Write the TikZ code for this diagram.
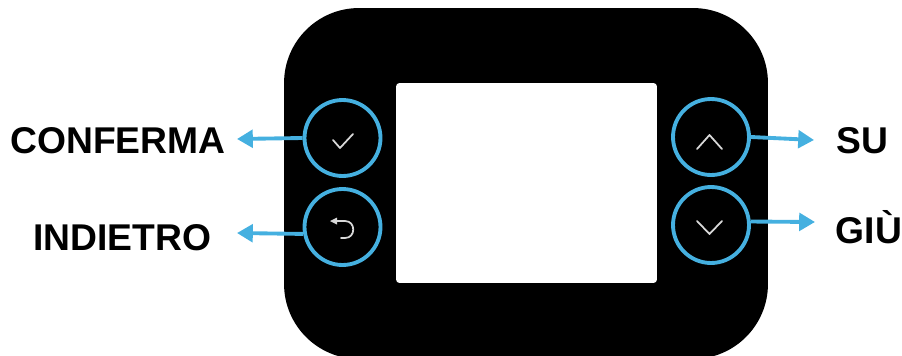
\documentclass[tikz,border=0pt]{standalone}
\usepackage{xcolor}
\usepackage{fontspec}
\setmainfont{Liberation Sans}
\usetikzlibrary{arrows.meta}
\definecolor{keyblue}{HTML}{45B0E0}
\definecolor{iconwhite}{HTML}{D8D8D8}

\begin{document}
\begin{tikzpicture}[
  x=0.02cm, y=-0.02cm,
  body/.style={fill=black, rounded corners=1.5cm,
               minimum width=9.68cm, minimum height=7.02cm},
  screen/.style={fill=white, rounded corners=2pt,
               minimum width=5.22cm, minimum height=4cm},
  key/.style={circle, draw=keyblue, line width=2.2pt, minimum size=1.52cm},
  lab/.style={font=\fontsize{21.2}{21.2}\selectfont\bfseries},
  arr/.style={-{Triangle[length=9pt,width=10pt]}, draw=keyblue, line width=2.2pt},
  icon/.style={draw=iconwhite, line width=1pt, line cap=round, line join=round}
]
\useasboundingbox (0,0) rectangle (902,355);
\node[body]   (case)   at (526,183.5) {};
\node[screen] (disp)   at (526.5,183) {};
\node[key] (ok)   at (342.5,138) {};
\node[key] (back) at (342.5,227) {};
\node[key] (up)   at (711,137) {};
\node[key] (down) at (711,225) {};
\node[lab] (conf) at (118,141) {CONFERMA};
\node[lab] (indi) at (122,238) {INDIETRO};
\node[lab] (su)   at (862.5,141) {SU};
\node[lab] (giu)  at (869,227) {GIÙ};
\coordinate (tipconf) at (237,139);
\coordinate (tipindi) at (237,233);
\coordinate (tipsu)   at (814,140);
\coordinate (tipgiu)  at (815,222);
\draw[arr] (ok.west) -- (tipconf);
\draw[arr] (back.190) -- (tipindi);
\draw[arr] (up.east) -- (tipsu);
\draw[arr] (down.5) -- (tipgiu);
% icons
\draw[icon] (333,140) -- (340,148) -- (353,134);
\draw[icon] (336,221) -- (345,221) .. controls (356,221) and (356,238) .. (345,238) -- (341,238);
\fill[iconwhite] (330,221) -- (337,217.5) -- (337,224.5) -- cycle;
\draw[icon] (697,149) -- (709.5,135) -- (722,149);
\draw[icon] (697,221) -- (709.5,234) -- (722,221);
\end{tikzpicture}
\end{document}
